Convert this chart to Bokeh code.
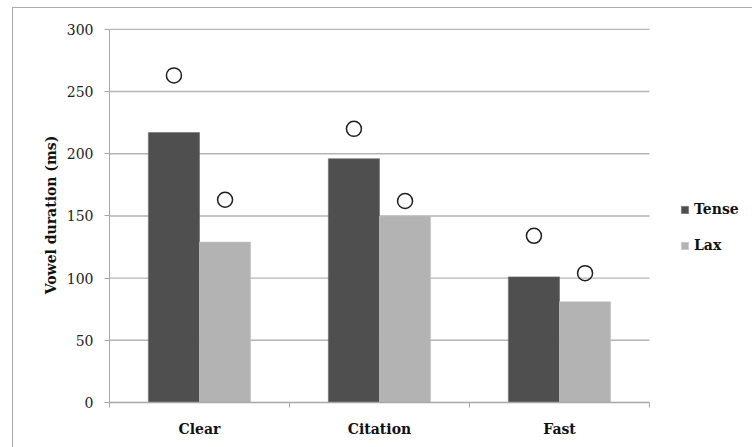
import numpy as np
from bokeh.plotting import figure
from bokeh.models import (ColumnDataSource, FixedTicker, Legend, LegendItem, Range1d)
from bokeh.embed import file_html
from bokeh.resources import INLINE

# Mean vowel durations (ms) by speaking style
categories = ["Clear", "Citation", "Fast"]
series = ["Tense", "Lax"]
tense_ms = [217, 196, 101]
lax_ms = [129, 150, 81]
# Reference durations shown as open circles above each bar
tense_ref_ms = [263, 220, 134]
lax_ref_ms = [163, 162, 104]
y_ticks = [0, 50, 100, 150, 200, 250, 300]

TENSE_COLOR = "#4f4f4f"
LAX_COLOR = "#b3b3b3"
FONT = "DejaVu Serif"

n = len(categories)
bar_w = 0.284
centers = np.arange(n) + 0.5
tense_x = centers - bar_w / 2
lax_x = centers + bar_w / 2

# frame spans to the right edge so the legend sits inside it;
# each category band is 180 px wide, the frame 644 px
FIG_W, FIG_H = 740, 440
BORDER_L = 96
band_px = 180
x_end = (FIG_W - BORDER_L) / band_px

p = figure(width=FIG_W, height=FIG_H, output_backend="svg", toolbar_location=None,
           x_range=Range1d(0, x_end), y_range=Range1d(0, 301.5),
           min_border_left=BORDER_L, min_border_right=0, min_border_top=19,
           min_border_bottom=46)
p.margin = (7, 0, 0, 12)
p.styles = {"border-top": "1px solid #ababab", "border-left": "1px solid #ababab"}
p.outline_line_color = None
p.background_fill_color = "white"
p.border_fill_color = "white"

# horizontal grid lines limited to the category bands
p.segment(x0=0, x1=n, y0=y_ticks[1:], y1=y_ticks[1:],
          line_color="#b5b5b5", line_width=1.4)

tense_src = ColumnDataSource(dict(x=tense_x, top=tense_ms, ref=tense_ref_ms))
lax_src = ColumnDataSource(dict(x=lax_x, top=lax_ms, ref=lax_ref_ms))

r_t = p.vbar(x="x", top="top", width=bar_w, bottom=0, source=tense_src,
             fill_color=TENSE_COLOR, line_color="#6a6a6a", line_width=0.6)
r_l = p.vbar(x="x", top="top", width=bar_w, bottom=0, source=lax_src,
             fill_color=LAX_COLOR, line_color="#c4c4c4", line_width=0.6)

for src in (tense_src, lax_src):
    p.scatter(x="x", y="ref", source=src, marker="circle", size=15,
              fill_color="white", fill_alpha=0.0, line_color="#1e1e1e", line_width=1.5)

# y axis
p.yaxis.ticker = FixedTicker(ticks=y_ticks)
p.yaxis.bounds = (0, 300)
p.yaxis.axis_line_color = "#a8a8a8"
p.yaxis.major_tick_line_color = "#a8a8a8"
p.yaxis.major_tick_out = 5
p.yaxis.major_tick_in = 0
p.yaxis.minor_tick_line_color = None
p.yaxis.major_label_text_font = FONT
p.yaxis.major_label_text_font_size = "14px"
p.yaxis.major_label_text_color = "#222222"
p.yaxis.major_label_standoff = 11
p.yaxis.axis_label = "Vowel duration (ms)"
p.yaxis.axis_label_text_font = FONT
p.yaxis.axis_label_text_font_style = "bold"
p.yaxis.axis_label_text_font_size = "14px"
p.yaxis.axis_label_text_color = "#111111"
p.yaxis.axis_label_standoff = 5
p.grid.grid_line_color = None

# x axis: labels at category centres, ticks at category boundaries
p.xaxis.ticker = FixedTicker(ticks=list(centers), minor_ticks=list(range(n + 1)))
p.xaxis.bounds = (0, n)
p.xaxis.major_label_overrides = {float(c): name for c, name in zip(centers, categories)}
p.xaxis.major_tick_line_color = None
p.xaxis.minor_tick_line_color = "#a8a8a8"
p.xaxis.minor_tick_out = 5
p.xaxis.minor_tick_in = 0
p.xaxis.axis_line_color = "#a8a8a8"
p.xaxis.axis_line_width = 1.4
p.xaxis.major_label_text_font = FONT
p.xaxis.major_label_text_font_style = "bold"
p.xaxis.major_label_text_font_size = "14px"
p.xaxis.major_label_text_color = "#111111"
p.xaxis.major_label_standoff = 12

legend = Legend(items=[LegendItem(label=series[0], renderers=[r_t]),
                       LegendItem(label=series[1], renderers=[r_l])],
                location=(571, 147))
legend.border_line_color = None
legend.background_fill_alpha = 0
legend.padding = 0
legend.margin = 0
legend.glyph_width = 9
legend.glyph_height = 9
legend.label_height = 20
legend.spacing = 16
legend.label_standoff = 5
legend.label_text_font = FONT
legend.label_text_font_style = "bold"
legend.label_text_font_size = "14px"
legend.label_text_color = "#111111"
p.add_layout(legend)

open("out.html", "w").write(file_html(p, INLINE))
